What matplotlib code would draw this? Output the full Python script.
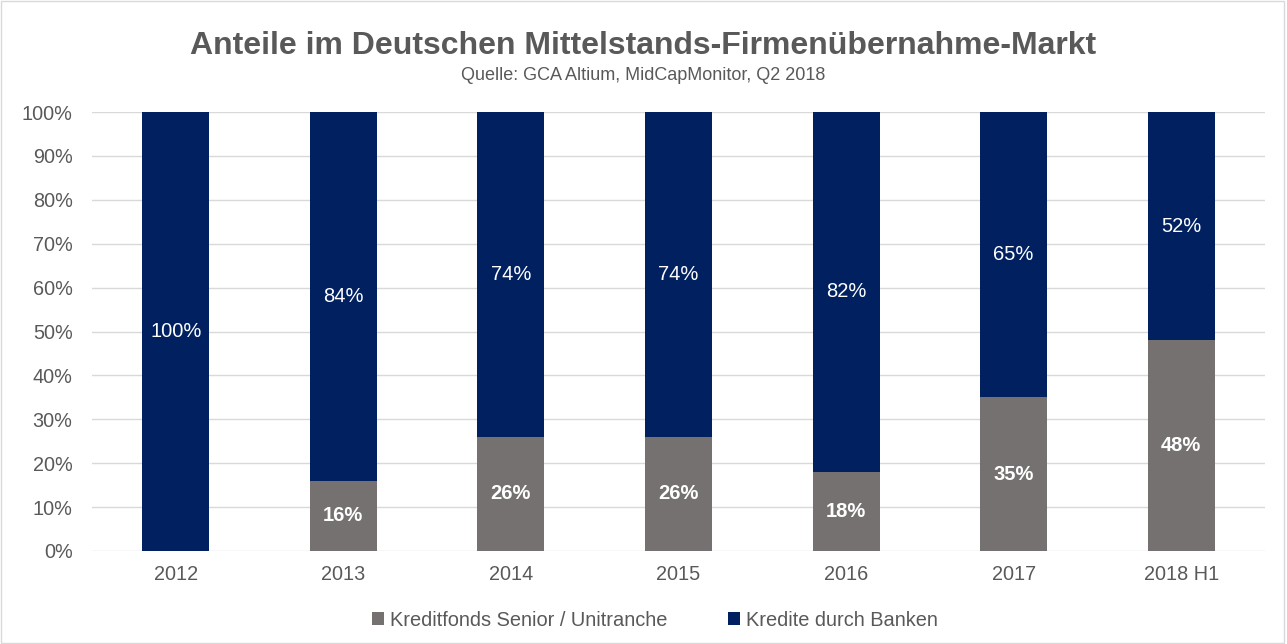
import matplotlib.pyplot as plt
import numpy as np

jahre = ["2012", "2013", "2014", "2015", "2016", "2017", "2018 H1"]
kreditfonds = [0, 16, 26, 26, 18, 35, 48]
banken = [100, 84, 74, 74, 82, 65, 52]

grau = "#767171"
blau = "#002060"
text_grau = "#595959"

plt.rcParams['font.family'] = ['Liberation Sans', 'DejaVu Sans']

fig = plt.figure(figsize=(12.87, 6.44), dpi=100)
ax = fig.add_axes([92/1287, 93/644, 1173/1287, 439/644])

x = np.arange(len(jahre))
b1 = ax.bar(x, kreditfonds, width=0.4, color=grau, label="Kreditfonds Senior / Unitranche", zorder=3)
b2 = ax.bar(x, banken, width=0.4, bottom=kreditfonds, color=blau, label="Kredite durch Banken", zorder=3)

for i in range(len(jahre)):
    if kreditfonds[i] > 0:
        ax.text(x[i], kreditfonds[i] / 2, f"{kreditfonds[i]}%", ha="center", va="center",
                color="white", fontsize=14.5, fontweight="bold", zorder=4)
    ax.text(x[i], kreditfonds[i] + banken[i] / 2, f"{banken[i]}%", ha="center", va="center",
            color="white", fontsize=14.5, zorder=4)

ax.set_xlim(-0.5, len(jahre) - 0.5)
ax.set_ylim(0, 100)
ax.set_yticks(np.arange(0, 101, 10))
ax.set_yticklabels([f"{v}%" for v in range(0, 101, 10)])
ax.set_xticks(x)
ax.set_xticklabels(jahre)
ax.tick_params(axis="both", length=0, labelsize=14.3, labelcolor=text_grau)
ax.tick_params(axis="y", pad=14)
ax.tick_params(axis="x", pad=10)
ax.grid(axis="y", color="#d9d9d9", linewidth=1, zorder=0)
for s in ax.spines.values():
    s.set_visible(False)

fig.text(0.5, 1 - 46/644, "Anteile im Deutschen Mittelstands-Firmenübernahme-Markt",
         ha="center", va="center", fontsize=23, fontweight="bold", color=text_grau)
fig.text(0.5, 1 - 75/644, "Quelle: GCA Altium, MidCapMonitor, Q2 2018",
         ha="center", va="center", fontsize=13, color=text_grau)

leg = fig.legend(handles=[b1, b2], loc="center", bbox_to_anchor=(655/1287, 1 - 620/644), ncol=2,
                 frameon=False, fontsize=14.4, handlelength=0.6, handleheight=0.6,
                 handletextpad=0.3, columnspacing=3)
for t in leg.get_texts():
    t.set_color(text_grau)

fig.patches.append(plt.Rectangle((0.001, 0.002), 0.997, 0.996, transform=fig.transFigure,
                                 fill=False, edgecolor="#d9d9d9", linewidth=1))

fig.savefig("out.png", dpi=100)
